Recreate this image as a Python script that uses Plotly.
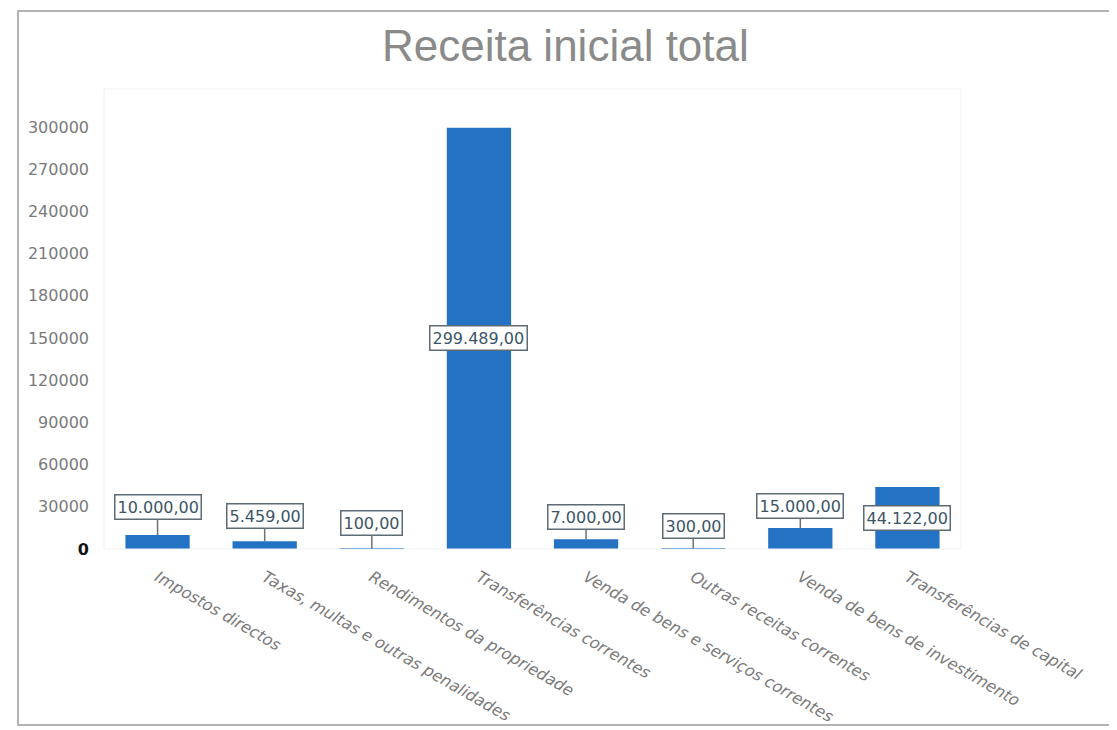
import plotly.graph_objects as go

categories = [
    "Impostos directos",
    "Taxas, multas e outras penalidades",
    "Rendimentos da propriedade",
    "Transferências correntes",
    "Venda de bens e serviços correntes",
    "Outras receitas correntes",
    "Venda de bens de investimento",
    "Transferências de capital",
]
values = [10000, 5459, 100, 299489, 7000, 300, 15000, 44122]
value_labels = ["10.000,00", "5.459,00", "100,00", "299.489,00", "7.000,00", "300,00", "15.000,00", "44.122,00"]
tick_vals = [0, 30000, 60000, 90000, 120000, 150000, 180000, 210000, 240000, 270000, 300000]

# label placement (style): pixel offset above bar top, or None = centred inside bar
label_offsets = [-28, -25, -26, None, -22, -23, -22, None]

W, H = 1117, 730
L, R, T, B = 96, 164, 81, 189
PW, PH = W - L - R, H - T - B

fig = go.Figure()
fig.add_trace(go.Bar(
    x=categories, y=values,
    marker=dict(color="#2372c4", line=dict(width=0)),
    hoverinfo="x+y",
))

ann = []
for c, v, lab, off in zip(categories, values, value_labels, label_offsets):
    common = dict(
        text=lab, x=c, xref="x", yref="y",
        font=dict(family="DejaVu Sans", size=16, color="#3b5566"),
        bgcolor="white", bordercolor="#5d6b75", borderwidth=1.5, borderpad=2,
    )
    if off is None:
        ann.append(dict(y=v / 2, showarrow=False, **common))
    else:
        ann.append(dict(y=v, showarrow=True, arrowhead=0, arrowwidth=1.5,
                        arrowcolor="#6b7378", ax=0, ay=off, **common))

ticktext = ["<span style='color:#111'><b>0</b></span>"] + [str(t) for t in tick_vals[1:]]

fig.update_layout(
    width=W, height=H,
    margin=dict(l=L, r=R, t=T, b=B, pad=0, autoexpand=False),
    paper_bgcolor="white", plot_bgcolor="white",
    bargap=0.4,
    showlegend=False,
    title=dict(text="Receita inicial total", x=0.499, xanchor="center", y=0.948, yanchor="middle",
               font=dict(family="Liberation Sans", size=44, color="#8a8a8a")),
    xaxis=dict(
        tickangle=30, showgrid=False, showline=False, ticks="", zeroline=False,
        tickfont=dict(family="DejaVu Sans", size=16, color="#7a7a7a", style="italic"),
        ticklabelstandoff=15,
    ),
    yaxis=dict(
        range=[0, 327000], tickvals=tick_vals, ticktext=ticktext,
        showgrid=False, zeroline=False, showline=False, ticks="",
        tickfont=dict(family="DejaVu Sans", size=16, color="#7a7a7a"),
        ticklabelstandoff=14,
    ),
    annotations=ann,
    shapes=[
        dict(type="rect", xref="paper", yref="paper",
             x0=(10 - L) / PW, x1=(1104 - L) / PW,
             y0=-(717 - (H - B)) / PH, y1=1 + (T - 3) / PH,
             line=dict(color="#9a9a9a", width=1.5)),
        dict(type="rect", xref="paper", yref="paper", x0=0, x1=1, y0=0, y1=1,
             line=dict(color="#f0f0f0", width=1)),
    ],
)

fig.write_html("out.html")
